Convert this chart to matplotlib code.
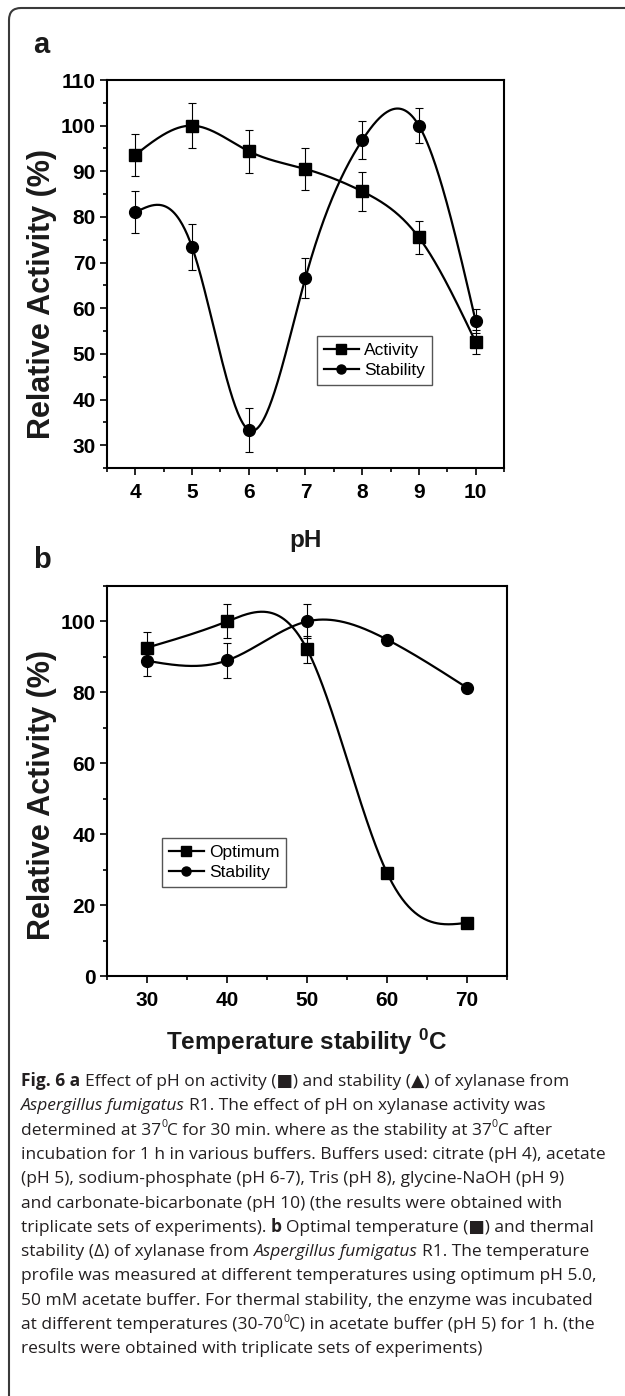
import numpy as np
import matplotlib
matplotlib.use('Agg')
from matplotlib import pyplot as plt
from matplotlib import font_manager
from matplotlib.font_manager import FontProperties
from matplotlib.lines import Line2D
from matplotlib.patches import FancyBboxPatch
from matplotlib.ticker import MultipleLocator
from matplotlib.transforms import IdentityTransform

# panel a: effect of pH
ph = [4, 5, 6, 7, 8, 9, 10]
ph_activity = [93.6, 100.0, 94.4, 90.5, 85.6, 75.5, 52.6]
ph_activity_err = [4.6, 5.0, 4.7, 4.5, 4.2, 3.7, 2.6]
ph_stability = [81.0, 73.4, 33.3, 66.7, 96.8, 100.0, 57.2]
ph_stability_err = [4.6, 5.0, 4.8, 4.4, 4.2, 3.8, 2.6]

# panel b: effect of temperature
temp = [30, 40, 50, 60, 70]
temp_optimum = [92.6, 100.0, 92.2, 29.1, 15.0]
temp_optimum_err = [4.4, 4.8, 3.8, 0.0, 0.0]
temp_stability = [88.9, 89.0, 100.0, 94.9, 81.3]
temp_stability_err = [4.4, 5.0, 4.8, 0.0, 0.0]

W, H = 625, 1396


def P(x, y):
    # pixel (from top-left) -> figure fraction
    return x / W, 1 - y / H


def natural_spline(x, y, xs):
    # plain natural cubic spline, same as Origin's "spline" connect
    x = np.asarray(x, float)
    y = np.asarray(y, float)
    n = len(x)
    h = np.diff(x)
    A = np.zeros((n, n))
    r = np.zeros(n)
    A[0, 0] = 1
    A[-1, -1] = 1
    for i in range(1, n - 1):
        A[i, i - 1] = h[i - 1]
        A[i, i] = 2 * (h[i - 1] + h[i])
        A[i, i + 1] = h[i]
        r[i] = 3 * ((y[i + 1] - y[i]) / h[i] - (y[i] - y[i - 1]) / h[i - 1])
    c = np.linalg.solve(A, r)
    b = (y[1:] - y[:-1]) / h - h * (2 * c[:-1] + c[1:]) / 3
    d = (c[1:] - c[:-1]) / (3 * h)
    idx = np.clip(np.searchsorted(x, xs) - 1, 0, n - 2)
    t = xs - x[idx]
    return y[idx] + b[idx] * t + c[idx] * t ** 2 + d[idx] * t ** 3


names = {f.name for f in font_manager.fontManager.ttflist}
if 'Liberation Sans Narrow' in names:
    narrow = 'Liberation Sans Narrow'
    tick_size, leg_size = 16.5, 14
else:
    narrow = 'Liberation Sans'
    tick_size, leg_size = 15, 12.5

plt.rcParams['mathtext.fontset'] = 'custom'
plt.rcParams['mathtext.rm'] = 'Liberation Sans:bold'
plt.rcParams['mathtext.it'] = 'Liberation Sans:bold'

tick_fp = FontProperties(family=narrow, weight='bold', size=tick_size)
leg_fp = FontProperties(family=narrow, size=leg_size)
ylab_fp = FontProperties(family='Liberation Sans', weight='bold', size=22)
xlab_fp = FontProperties(family='Liberation Sans', weight='bold', size=17.5)
panel_fp = FontProperties(family='Liberation Sans', weight='bold', size=21)

fig = plt.figure(figsize=(W / 100, H / 100), dpi=100)

# frame round the whole figure (only top and left edges visible)
frame = FancyBboxPatch((9, -30), 800, H - 8 + 30, boxstyle='round,pad=0,rounding_size=12',
                       transform=IdentityTransform(), fill=False, edgecolor='#3a3a3a', lw=1.5)
fig.add_artist(frame)

ax_a = fig.add_axes([107 / W, 1 - 468 / H, 397 / W, 388 / H])
ax_b = fig.add_axes([107 / W, 1 - 976 / H, 400 / W, 390 / H])


def draw_series(ax, x, y, err, marker, lo, hi):
    xs = np.linspace(lo, hi, 400)
    ax.plot(xs, natural_spline(x, y, xs), color='k', lw=1.6, zorder=2)
    ax.errorbar(x, y, yerr=err, fmt='none', ecolor='k', elinewidth=0.8,
                capsize=3, capthick=0.8, zorder=3)
    ax.plot(x, y, marker, color='k', ms=8.5, zorder=4)


def style_axes(ax):
    for sp in ax.spines.values():
        sp.set_linewidth(1.5)
    ax.tick_params(which='both', direction='out', top=False, right=False, width=1.2,
                   color='k')
    ax.tick_params(which='major', length=5, pad=3)
    ax.tick_params(which='minor', length=3)
    ax.tick_params(axis='x', which='major', pad=6)


def add_legend(ax, labels, anchor):
    handles = [Line2D([], [], color='k', lw=1.6, marker='s', ms=6.5),
               Line2D([], [], color='k', lw=1.6, marker='o', ms=6.5)]
    leg = ax.legend(handles, labels, loc='lower left', bbox_to_anchor=anchor,
                    borderaxespad=0, prop=leg_fp, fancybox=False, edgecolor='#555555',
                    handlelength=2.0, handletextpad=0.3, borderpad=0.4,
                    labelspacing=0.3, framealpha=1)
    leg.get_frame().set_linewidth(1.0)


# ---- panel a ----
draw_series(ax_a, ph, ph_activity, ph_activity_err, 's', ph[0], ph[-1])
draw_series(ax_a, ph, ph_stability, ph_stability_err, 'o', ph[0], ph[-1])
ax_a.set_xlim(3.5, 10.5)
ax_a.set_ylim(25, 110)
ax_a.set_xticks(ph)
ax_a.set_xticklabels([str(v) for v in ph], fontproperties=tick_fp)
yt = list(range(30, 111, 10))
ax_a.set_yticks(yt)
ax_a.set_yticklabels([str(v) for v in yt], fontproperties=tick_fp)
ax_a.xaxis.set_minor_locator(MultipleLocator(0.5))
ax_a.yaxis.set_minor_locator(MultipleLocator(5))
style_axes(ax_a)
add_legend(ax_a, ['Activity', 'Stability'], (0.529, 0.214))

# ---- panel b ----
draw_series(ax_b, temp, temp_optimum, temp_optimum_err, 's', temp[0], temp[-1])
draw_series(ax_b, temp, temp_stability, temp_stability_err, 'o', temp[0], temp[-1])
ax_b.set_xlim(25, 75)
ax_b.set_ylim(0, 110)
ax_b.set_xticks(temp)
ax_b.set_xticklabels([str(v) for v in temp], fontproperties=tick_fp)
yt = list(range(0, 101, 20))
ax_b.set_yticks(yt)
ax_b.set_yticklabels([str(v) for v in yt], fontproperties=tick_fp)
ax_b.xaxis.set_minor_locator(MultipleLocator(5))
ax_b.yaxis.set_minor_locator(MultipleLocator(10))
style_axes(ax_b)
add_legend(ax_b, ['Optimum', 'Stability'], (0.1375, 0.228))

# labels
fig.text(*P(42, 294), 'Relative Activity (%)', rotation=90, ha='center', va='center',
         fontproperties=ylab_fp, color='#1a1a1a')
fig.text(*P(42, 795), 'Relative Activity (%)', rotation=90, ha='center', va='center',
         fontproperties=ylab_fp, color='#1a1a1a')
fig.text(*P(306, 541), 'pH', ha='center', va='center', fontproperties=xlab_fp, color='#1a1a1a')
fig.text(*P(307, 1042), r'Temperature stability $^{0}$C', ha='center', va='center',
         fontproperties=xlab_fp, color='#1a1a1a')
fig.text(*P(33, 53), 'a', ha='left', va='baseline', fontproperties=panel_fp, color='#1a1a1a')
fig.text(*P(33, 568), 'b', ha='left', va='baseline', fontproperties=panel_fp, color='#1a1a1a')

# ---- caption ----
caption = [
    [('Fig. 6 a', 'b'), (' Effect of pH on activity (■) and stability (▲) of xylanase from', 'n')],
    [('Aspergillus fumigatus', 'i'), (' R1. The effect of pH on xylanase activity was', 'n')],
    [('determined at 37', 'n'), ('0', 's'), ('C for 30 min. where as the stability at 37', 'n'),
     ('0', 's'), ('C after', 'n')],
    [('incubation for 1 h in various buffers. Buffers used: citrate (pH 4), acetate', 'n')],
    [('(pH 5), sodium-phosphate (pH 6-7), Tris (pH 8), glycine-NaOH (pH 9)', 'n')],
    [('and carbonate-bicarbonate (pH 10) (the results were obtained with', 'n')],
    [('triplicate sets of experiments). ', 'n'), ('b', 'b'),
     (' Optimal temperature (■) and thermal', 'n')],
    [('stability (Δ) of xylanase from ', 'n'), ('Aspergillus fumigatus', 'i'),
     (' R1. The temperature', 'n')],
    [('profile was measured at different temperatures using optimum pH 5.0,', 'n')],
    [('50 mM acetate buffer. For thermal stability, the enzyme was incubated', 'n')],
    [('at different temperatures (30-70', 'n'), ('0', 's'),
     ('C) in acetate buffer (pH 5) for 1 h. (the', 'n')],
    [('results were obtained with triplicate sets of experiments)', 'n')],
]

cap_family = ['Open Sans', 'DejaVu Sans']
cap_color = '#231f20'
renderer = fig.canvas.get_renderer()


def cap_props(size):
    return {'n': FontProperties(family=cap_family, size=size),
            'b': FontProperties(family=cap_family, size=size, weight='bold'),
            'i': FontProperties(family=cap_family, size=size, style='italic'),
            's': FontProperties(family=cap_family, size=size * 0.6)}


def text_w(s, fp):
    w1 = renderer.get_text_width_height_descent('|' + s + '|', fp, ismath=False)[0]
    w0 = renderer.get_text_width_height_descent('||', fp, ismath=False)[0]
    return w1 - w0


def line_w(segs, props):
    return sum(text_w(s, props[k]) for s, k in segs)


# fit the font size to the widest line of the reference (line 4, ~585 px)
base = 11.0
cap_size = base * 585 / line_w(caption[3], cap_props(base))
props = cap_props(cap_size)

cap_x = 21
for i, segs in enumerate(caption):
    y = 1086 + 24.3 * i
    x = cap_x
    for s, k in segs:
        fp = props[k]
        body = s.strip(' ')
        lead = len(s) - len(s.lstrip(' '))
        dy = cap_size * 0.42 * 100 / 72 if k == 's' else 0
        if body:
            fig.text(*P(x + lead * text_w(' ', fp), y - dy), body, fontproperties=fp,
                     color=cap_color, ha='left', va='baseline')
        x += text_w(s, fp)

fig.savefig('out.png', dpi=100)
